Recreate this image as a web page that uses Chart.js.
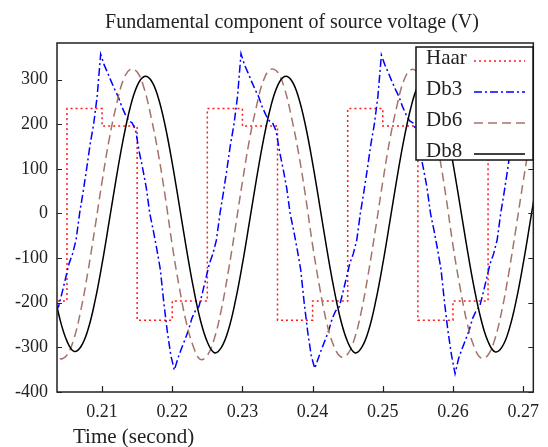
<!DOCTYPE html>
<html><head><meta charset="utf-8">
<script src="https://cdn.jsdelivr.net/npm/chart.js@4/dist/chart.umd.min.js"></script>
<style>html,body{margin:0;padding:0;background:#fff}#wrap{width:548px;height:447px}</style>
</head><body><div id="wrap"><canvas id="c" width="548" height="447"></canvas></div>
<script>
// ---- text ----
const chartTitle = 'Fundamental component of source voltage (V)';
const xAxisTitle = 'Time (second)';
const seriesNames = ['Haar', 'Db3', 'Db6', 'Db8'];

// ---- tick labels ----
const xTickValues = [0.21, 0.22, 0.23, 0.24, 0.25, 0.26, 0.27];
const yTickValues = [-400, -300, -200, -100, 0, 100, 200, 300];

// ---- Haar (stepped) ----
const haarTime   = [0.2030, 0.2050, 0.2100, 0.2150, 0.2200, 0.2250, 0.2300, 0.2350, 0.2400, 0.2450, 0.2500, 0.2550, 0.2600, 0.2650, 0.2720];
const haarValues = [-196, 235, 196, -239, -196, 235, 196, -239, -196, 235, 196, -239, -196, 235, 235];

// ---- Db3 (sampled every 0.5 ms from 0.2033 s) ----
const db3Start = 0.2033, db3Step = 0.0005;
const db3Values = [
  -218,-209,-178,-145,-112,-90,-59,
  0,48,100,155,200,262,357,333,315,296,278,262,240,222,208,203,185,138,100,58,0,
  -38,-80,-125,-200,-265,-318,-351,-325,-303,-283,-262,-235,-218,-209,-178,-145,-112,-90,-59,0,
  48,100,155,200,262,358,333,315,296,278,262,240,222,208,203,185,138,100,58,0,
  -38,-80,-125,-200,-265,-318,-347,-325,-303,-283,-262,-235,-218,-209,-178,-145,-112,-90,-59,0,
  48,100,155,200,262,355,333,315,296,278,262,240,222,208,203,185,138,100,58,0,
  -38,-80,-125,-200,-265,-318,-359,-325,-303,-283,-262,-235,-218,-209,-178,-145,-112,-90,-59,0,
  48,100,155,200,262,357,333,315,296,278
];

// ---- Db6 / Db8 (sampled every 1 ms from 0.203 s) ----
const dbStart = 0.203, dbStep = 0.001;
const db6Values = [
  -298,-325,-317,-280,-215,-129,-31,71,165,240,298,323,317,280,215,135,38,-71,-165,-244,
  -298,-327,-318,-280,-215,-129,-31,71,165,240,298,323,317,280,215,135,38,-71,-165,-244,
  -296,-321,-315,-279,-215,-129,-31,71,165,240,298,322,316,280,215,135,38,-71,-165,-244,
  -298,-324,-317,-280,-215,-129,-31,71,165,240
];
const db8Values = [
  -165,-237,-286,-309,-298,-260,-196,-113,-19,77,165,237,286,307,298,260,196,113,19,-77,
  -165,-238,-288,-312,-300,-261,-196,-113,-19,77,165,237,286,307,298,260,196,113,19,-77,
  -165,-238,-288,-312,-300,-261,-196,-113,-19,77,165,237,286,306,298,260,196,113,19,-77,
  -165,-237,-287,-310,-299,-260,-196,-113,-19,77
];

// ---- build point lists ----
const grid = (start, step, n) => Array.from({length: n}, (_, i) => +(start + i * step).toFixed(4));
const pts = (ts, vs) => vs.map((v, i) => ({x: ts[i], y: v}));
const db3Time = grid(db3Start, db3Step, db3Values.length);
const dbTime = grid(dbStart, dbStep, db8Values.length);

const FONT = "'Liberation Serif', 'Times New Roman', serif";

const framePlugin = {
  id: 'frame',
  afterDatasetsDraw(chart) {
    const {ctx, chartArea: a, scales} = chart;
    ctx.save();
    ctx.strokeStyle = '#222';
    ctx.lineWidth = 1.5;
    ctx.strokeRect(a.left, a.top, a.right - a.left, a.bottom - a.top);
    ctx.lineWidth = 1.2;
    ctx.beginPath();
    xTickValues.forEach(v => {
      const x = Math.round(scales.x.getPixelForValue(v)) + 0.5;
      ctx.moveTo(x, a.bottom); ctx.lineTo(x, a.bottom - 6);
    });
    yTickValues.forEach(v => {
      const y = Math.round(scales.y.getPixelForValue(v)) + 0.5;
      ctx.moveTo(a.left, y); ctx.lineTo(a.left + 5, y);
      ctx.moveTo(a.right, y); ctx.lineTo(a.right - 5, y);
    });
    ctx.stroke();
    ctx.restore();
  },
  afterDraw(chart) {
    const {ctx} = chart;
    ctx.save();
    ctx.fillStyle = '#222';
    ctx.textBaseline = 'alphabetic';
    ctx.font = `20px ${FONT}`;
    ctx.textAlign = 'center';
    ctx.fillText(chartTitle, 292, 28);
    ctx.font = `21px ${FONT}`;
    ctx.textAlign = 'left';
    ctx.fillText(xAxisTitle, 73, 443);

    // legend box
    const bx = 416, by = 47, bw = 117, bh = 113;
    ctx.fillStyle = '#fff';
    ctx.fillRect(bx, by, bw, bh);
    ctx.strokeStyle = '#111';
    ctx.lineWidth = 1.5;
    ctx.strokeRect(bx, by, bw, bh);
    ctx.font = `21px ${FONT}`;
    ctx.textBaseline = 'middle';
    chart.data.datasets.forEach((ds, i) => {
      const cy = 58 + 31 * i;
      ctx.fillStyle = '#222';
      ctx.fillText(ds.label, 426, cy);
      ctx.beginPath();
      ctx.strokeStyle = ds.borderColor;
      ctx.lineWidth = ds.borderWidth;
      ctx.setLineDash(ds.borderDash || []);
      ctx.moveTo(474, cy + 3); ctx.lineTo(525, cy + 3);
      ctx.stroke();
      ctx.setLineDash([]);
    });
    ctx.restore();
  }
};

new Chart(document.getElementById('c'), {
  type: 'line',
  data: {
    datasets: [
      {label: seriesNames[0], data: pts(haarTime, haarValues), borderColor: '#ff1a1a', borderWidth: 1.5,
       borderDash: [2, 3], stepped: 'before', pointRadius: 0, order: 4},
      {label: seriesNames[1], data: pts(db3Time, db3Values), borderColor: '#0000ff', borderWidth: 1.5,
       borderDash: [8, 3, 2, 3], tension: 0, pointRadius: 0, order: 3},
      {label: seriesNames[2], data: pts(dbTime, db6Values), borderColor: 'rgb(165,115,105)', borderWidth: 1.5,
       borderDash: [9, 5], tension: 0.4, pointRadius: 0, order: 2},
      {label: seriesNames[3], data: pts(dbTime, db8Values), borderColor: '#000000', borderWidth: 1.5,
       tension: 0.4, pointRadius: 0, order: 1}
    ]
  },
  options: {
    responsive: false,
    animation: false,
    devicePixelRatio: 1,
    layout: {padding: {left: 0, right: 5, top: 43, bottom: 0}},
    plugins: {legend: {display: false}, title: {display: false}, tooltip: {enabled: false}},
    scales: {
      x: {
        type: 'linear', min: 0.20358, max: 0.27145,
        afterBuildTicks: s => { s.ticks = xTickValues.map(v => ({value: v})); },
        afterFit: s => { s.height = 55; },
        grid: {display: false, drawTicks: false},
        border: {display: false},
        ticks: {callback: v => v.toFixed(2), font: {family: FONT, size: 18}, color: '#222', padding: 9, maxRotation: 0, autoSkip: false}
      },
      y: {
        type: 'linear', min: -400, max: 382,
        afterBuildTicks: s => { s.ticks = yTickValues.map(v => ({value: v})); },
        afterFit: s => { s.width = 57; },
        grid: {display: false, drawTicks: false},
        border: {display: false},
        ticks: {callback: v => String(v), font: {family: FONT, size: 18}, color: '#222', padding: 9, autoSkip: false}
      }
    }
  },
  plugins: [framePlugin]
});
</script></body></html>
